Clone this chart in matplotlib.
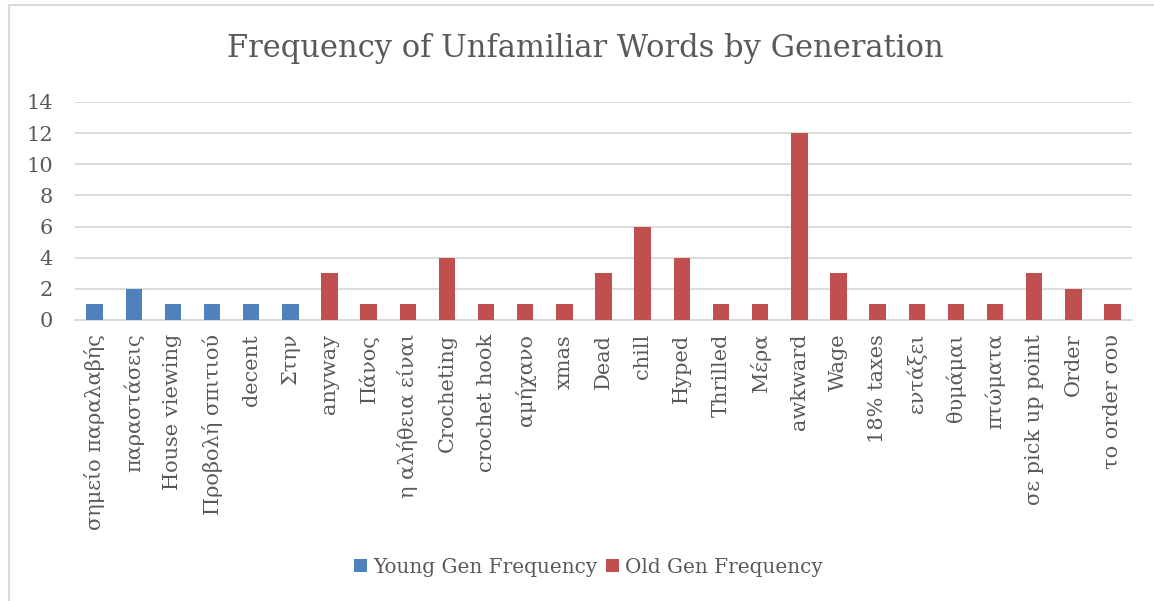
import matplotlib
matplotlib.use("Agg")
import matplotlib.pyplot as plt
from matplotlib.lines import Line2D
import numpy as np

plt.rcParams['font.family'] = ['DejaVu Serif']

words = ["σημείο παραλαβής", "παραστάσεις", "House viewing", "Προβολή σπιτιού",
         "decent", "Στην", "anyway", "Πάνος", "η αλήθεια είναι", "Crocheting",
         "crochet hook", "αμήχανο", "xmas", "Dead", "chill", "Hyped", "Thrilled",
         "Μέρα", "awkward", "Wage", "18% taxes", "εντάξει", "θυμάμαι", "πτώματα",
         "σε pick up point", "Order", "το order σου"]
young = [1, 2, 1, 1, 1, 1] + [0] * 21
old = [0] * 6 + [3, 1, 1, 4, 1, 1, 1, 3, 6, 4, 1, 1, 12, 3, 1, 1, 1, 1, 3, 2, 1]

BLUE = "#4F81BD"
RED = "#C0504D"
GRAY = "#595959"

fig = plt.figure(figsize=(11.54, 6.01), dpi=100)
ax = fig.add_axes([0.065, 0.4676, 0.916, 0.3627])

x = np.arange(len(words))
yv = np.array(young, dtype=float)
ov = np.array(old, dtype=float)
ax.bar(x[yv > 0], yv[yv > 0], width=0.42, color=BLUE, label="Young Gen Frequency", zorder=3)
ax.bar(x[ov > 0], ov[ov > 0], width=0.42, color=RED, label="Old Gen Frequency", zorder=3)

ax.set_xlim(-0.5, len(words) - 0.5)
ax.set_ylim(0, 14)
ax.set_yticks(range(0, 15, 2))
ax.yaxis.grid(True, color="#D9D9D9", linewidth=1.3, zorder=0)
for s in ["top", "right", "left"]:
    ax.spines[s].set_visible(False)
ax.spines["bottom"].set_color("#D9D9D9")
ax.spines["bottom"].set_linewidth(1.3)
ax.tick_params(length=0, colors=GRAY, labelsize=15)
ax.tick_params(axis="y", pad=16)
ax.tick_params(axis="x", pad=10)
ax.set_xticks(x)
ax.set_xticklabels(words, rotation=90)

fig.text(0.507, 1 - 48 / 601, "Frequency of Unfamiliar Words by Generation",
         ha="center", va="center", fontsize=22, color=GRAY)

fig.legend(loc="center", bbox_to_anchor=(0.51, 0.056), ncol=2, frameon=False,
           fontsize=14.4, labelcolor=GRAY, handlelength=0.65, handleheight=0.65,
           handletextpad=0.3, columnspacing=0.45)

# chart frame (only top and left edges visible in the crop)
fig.add_artist(Line2D([0.0075, 0.0075], [0, 0.992], transform=fig.transFigure,
                      color="#D9D9D9", linewidth=1.5))
fig.add_artist(Line2D([0.0075, 1], [0.992, 0.992], transform=fig.transFigure,
                      color="#D9D9D9", linewidth=1.5))

fig.savefig("out.png", dpi=100, facecolor="white")
